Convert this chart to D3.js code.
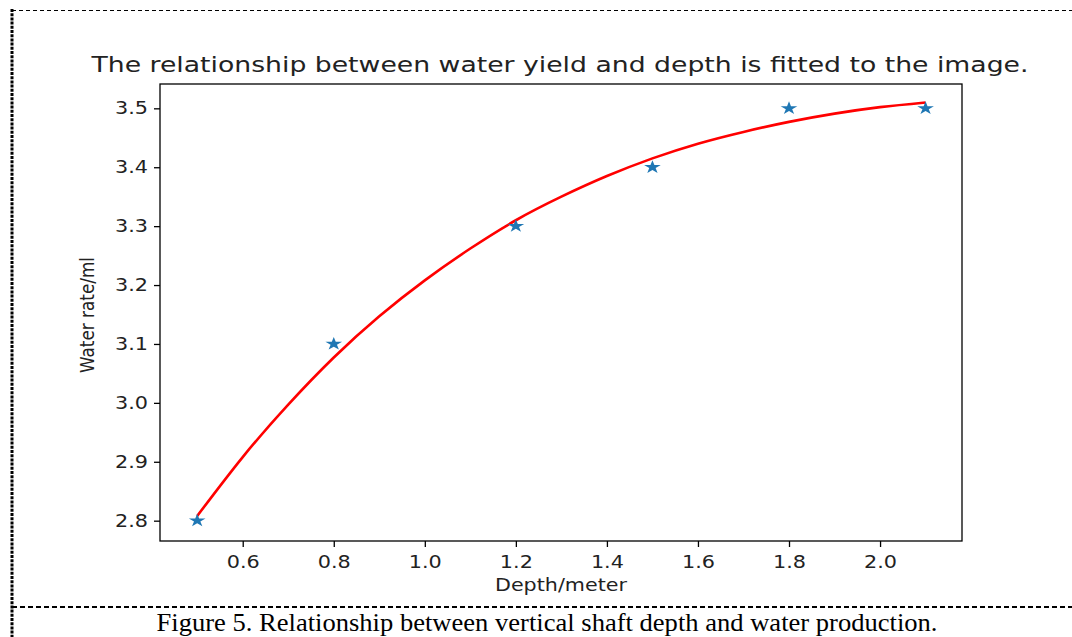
<!DOCTYPE html>
<html lang="en">
<head>
<meta charset="UTF-8">
<title>Water yield vs depth</title>
<script src="https://d3js.org/d3.v7.min.js"></script>
<style>
  body { margin: 0; background: #fff; }
  svg { display: block; }
  .axis text { font-family: "DejaVu Sans", sans-serif; font-size: 17px; fill: #222; }
  .axis path, .axis line { stroke: #000; stroke-width: 1.3; }
</style>
</head>
<body>
<svg width="1072" height="637"></svg>
<script>
  // measured points
  const depth = [0.5, 0.8, 1.2, 1.5, 1.8, 2.1]
  const water = [2.8, 3.1, 3.3, 3.4, 3.5, 3.5]

  // fitted curve
  const fitX = [0.5, 0.6, 0.7, 0.8, 0.9, 1.0, 1.1, 1.2, 1.3, 1.4, 1.5, 1.6, 1.7, 1.8, 1.9, 2.0, 2.1]
  const fitY = [2.808, 2.908, 2.997, 3.077, 3.147, 3.208, 3.262, 3.31, 3.35, 3.385, 3.415, 3.44, 3.46, 3.477, 3.491, 3.502, 3.51]

  const xTicks = [0.6, 0.8, 1.0, 1.2, 1.4, 1.6, 1.8, 2.0]
  const yTicks = [2.8, 2.9, 3.0, 3.1, 3.2, 3.3, 3.4, 3.5]

  const svg = d3.select("svg")
  const pL = 160, pR = 962, pT = 84, pB = 541

  let x = d3.scaleLinear().domain([0.4183, 2.180]).range([pL, pR])
  let y = d3.scaleLinear().domain([2.7655, 3.5413]).range([pB, pT])

  // page frame lines
  svg.append("line").attr("x1", 12).attr("x2", 1072).attr("y1", 10.5).attr("y2", 10.5)
     .attr("stroke", "#000").attr("stroke-width", 1.2).attr("stroke-dasharray", "4,3")
  svg.append("line").attr("x1", 12).attr("x2", 12).attr("y1", 9).attr("y2", 637)
     .attr("stroke", "#000").attr("stroke-width", 3).attr("stroke-dasharray", "3,1.2")
  svg.append("line").attr("x1", 12).attr("x2", 1072).attr("y1", 607).attr("y2", 607)
     .attr("stroke", "#000").attr("stroke-width", 1.8).attr("stroke-dasharray", "5,3")

  // title
  svg.append("text").attr("x", 560).attr("y", 72)
     .attr("text-anchor", "middle")
     .attr("textLength", 937).attr("lengthAdjust", "spacingAndGlyphs")
     .style("font-family", "DejaVu Sans, sans-serif").style("font-size", "21px").style("fill", "#222")
     .text("The relationship between water yield and depth is fitted to the image.")

  // axes
  let gx = svg.append("g").attr("class", "axis").attr("transform", `translate(0,${pB})`)
     .call(d3.axisBottom(x).tickValues(xTicks).tickSize(6).tickPadding(5).tickFormat(d3.format(".1f")))
  let gy = svg.append("g").attr("class", "axis").attr("transform", `translate(${pL},0)`)
     .call(d3.axisLeft(y).tickValues(yTicks).tickSize(6).tickPadding(6).tickFormat(d3.format(".1f")))
  gx.select(".domain").remove()
  gy.select(".domain").remove()
  svg.selectAll(".axis text").attr("textLength", 33).attr("lengthAdjust", "spacingAndGlyphs")
  gx.selectAll("text").attr("dy", "0.95em")

  // frame
  svg.append("rect").attr("x", pL).attr("y", pT)
     .attr("width", pR - pL).attr("height", pB - pT)
     .attr("fill", "none").attr("stroke", "#000").attr("stroke-width", 1.3)

  // axis labels
  svg.append("text").attr("x", 561).attr("y", 591)
     .attr("text-anchor", "middle")
     .attr("textLength", 132).attr("lengthAdjust", "spacingAndGlyphs")
     .style("font-family", "DejaVu Sans, sans-serif").style("font-size", "18px").style("fill", "#222")
     .text("Depth/meter")
  svg.append("text")
     .attr("transform", "translate(94,315) scale(1.15,1) rotate(-90)")
     .attr("text-anchor", "middle")
     .attr("textLength", 116).attr("lengthAdjust", "spacingAndGlyphs")
     .style("font-family", "DejaVu Sans, sans-serif").style("font-size", "16.5px").style("fill", "#222")
     .text("Water rate/ml")

  // fitted curve
  const line = d3.line().x(d => x(d[0])).y(d => y(d[1])).curve(d3.curveNatural)
  svg.append("path").datum(d3.zip(fitX, fitY))
     .attr("d", line).attr("fill", "none").attr("stroke", "red").attr("stroke-width", 2.6)

  // stars
  svg.selectAll(".pt").data(d3.zip(depth, water)).enter()
     .append("path").attr("class", "pt")
     .attr("transform", d => `translate(${x(d[0])},${y(d[1])}) scale(1.25,1)`)
     .attr("d", d3.symbol().type(d3.symbolStar).size(55))
     .attr("fill", "#1f77b4")

  // caption
  svg.append("text").attr("x", 547).attr("y", 631)
     .attr("text-anchor", "middle")
     .attr("textLength", 781).attr("lengthAdjust", "spacingAndGlyphs")
     .style("font-family", "Liberation Serif, Times New Roman, serif").style("font-size", "25.5px").style("fill", "#000")
     .text("Figure 5. Relationship between vertical shaft depth and water production.")
</script>
</body>
</html>
